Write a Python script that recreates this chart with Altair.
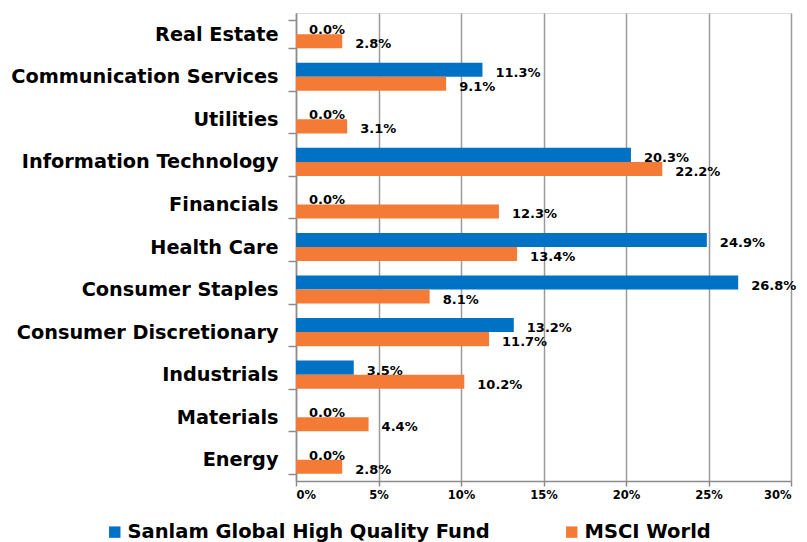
import altair as alt
import pandas as pd

sectors = ["Real Estate", "Communication Services", "Utilities", "Information Technology",
           "Financials", "Health Care", "Consumer Staples", "Consumer Discretionary",
           "Industrials", "Materials", "Energy"]
series_names = ["Sanlam Global High Quality Fund", "MSCI World"]
sanlam = [0.0, 11.3, 0.0, 20.3, 0.0, 24.9, 26.8, 13.2, 3.5, 0.0, 0.0]
msci = [2.8, 9.1, 3.1, 22.2, 12.3, 13.4, 8.1, 11.7, 10.2, 4.4, 2.8]
x_ticks = [0, 5, 10, 15, 20, 25, 30]
colors = ["#0072C6", "#F47B36"]

rows = []
for i, s in enumerate(sectors):
    rows.append({"sector": s, "series": series_names[0], "value": sanlam[i]})
    rows.append({"sector": s, "series": series_names[1], "value": msci[i]})
df = pd.DataFrame(rows)

FONT = "DejaVu Sans"

y_enc = alt.Y("sector:N", sort=sectors, title=None,
              scale=alt.Scale(paddingInner=0.34, paddingOuter=0.17),
              axis=alt.Axis(labelFontSize=19.3, labelFontWeight="bold", labelColor="#000000",
                            labelFont=FONT, labelPadding=10, tickSize=8, tickColor="#8C8C8C",
                            tickWidth=1.5, tickBand="extent", domainColor="#8C8C8C",
                            domainWidth=1.5, grid=False, labelLimit=400))
x_enc = alt.X("value:Q", title=None,
              scale=alt.Scale(domain=[0, 30], nice=False),
              axis=alt.Axis(values=x_ticks, labelExpr="datum.value + '%'", labelFontSize=11.5,
                            labelFontWeight="bold", labelColor="#000000", labelFont=FONT,
                            labelPadding=3, tickSize=5, tickColor="#8C8C8C", tickWidth=1.5,
                            domainColor="#8C8C8C", domainWidth=1.5, grid=True,
                            gridColor="#9A9A9A", gridWidth=1.5))
yoff = alt.YOffset("series:N", sort=series_names, scale=alt.Scale(paddingInner=0, paddingOuter=0))

bars = alt.Chart(df).mark_bar().encode(
    x=x_enc, y=y_enc, yOffset=yoff,
    color=alt.Color("series:N", sort=series_names,
                    scale=alt.Scale(domain=series_names, range=colors),
                    legend=alt.Legend(title=None, orient="none", legendX=-191, legendY=509,
                                      direction="horizontal", symbolType="square",
                                      symbolSize=130, symbolStrokeWidth=0, labelFontSize=19.5,
                                      labelFontWeight="bold", labelFont=FONT,
                                      labelColor="#000000", labelOffset=3, columnPadding=72,
                                      labelLimit=500)),
)

labels = alt.Chart(df).transform_calculate(
    label="format(datum.value, '.1f') + '%'"
).mark_text(align="left", baseline="middle", dx=13, dy=3, fontSize=13,
            fontWeight="bold", font=FONT, color="#000000").encode(
    x="value:Q", y=alt.Y("sector:N", sort=sectors), yOffset=yoff, text="label:N"
)

chart = alt.layer(bars, labels).properties(
    width=495, height=468,
    padding={"left": 288, "top": 5, "right": 8, "bottom": 61},
    autosize=alt.AutoSizeParams(type="none"),
).configure_view(stroke=None).configure(background="white")

chart.save("out.html", embed_options={"renderer": "svg", "actions": False})
